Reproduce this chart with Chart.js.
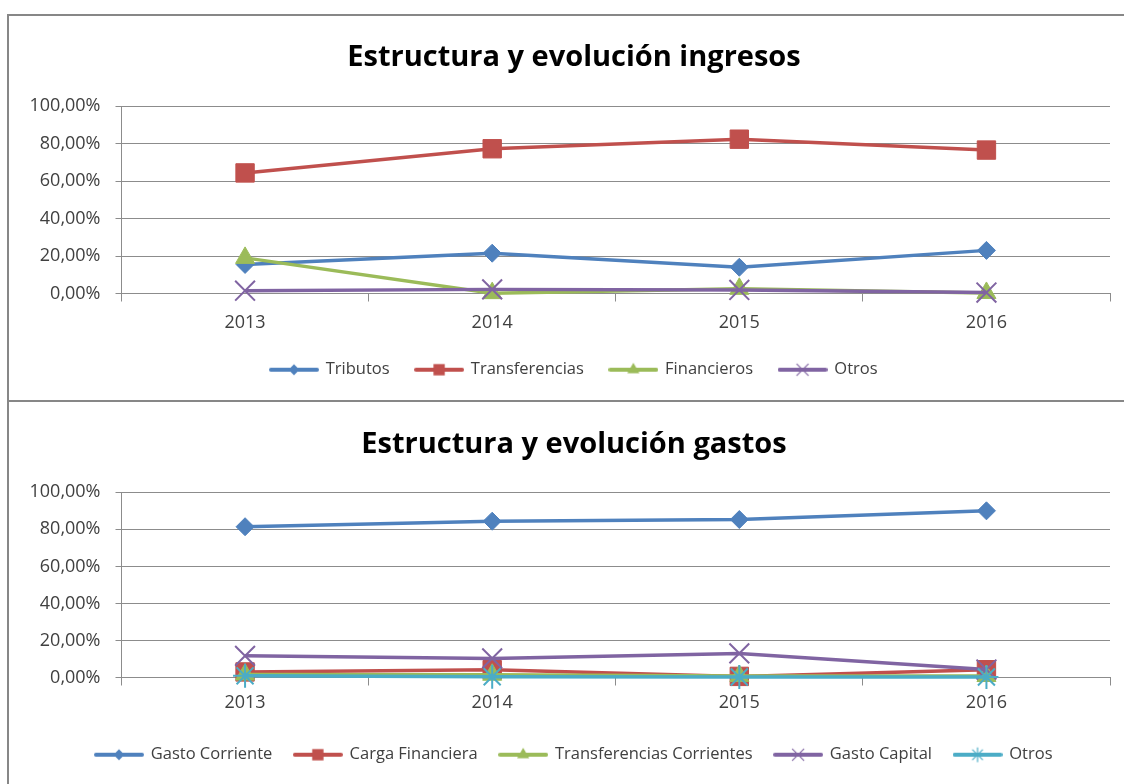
<!DOCTYPE html>
<html lang="es">
<head>
<meta charset="utf-8">
<title>Estructura y evolución ingresos y gastos</title>
<script src="https://cdn.jsdelivr.net/npm/chart.js@4.4.1/dist/chart.umd.min.js"></script>
<style>
  html, body { margin: 0; padding: 0; background: #fff; width: 1124px; height: 784px; overflow: hidden; }
  .frame { position: absolute; left: 7px; top: 14px; width: 1200px; height: 900px; border-top: 2px solid #878787; border-left: 2px solid #878787; }
  .sep { position: absolute; left: 7px; top: 400px; width: 1200px; border-top: 2px solid #878787; }
  .box { position: absolute; left: 8px; width: 1132px; height: 386px; }
</style>
</head>
<body>
<div class="frame"></div>
<div class="sep"></div>
<div class="box" style="top:15px"><canvas id="ingresosChart"></canvas></div>
<div class="box" style="top:401px"><canvas id="gastosChart"></canvas></div>

<script>
const years = ["2013", "2014", "2015", "2016"];
const yTicks = [0, 20, 40, 60, 80, 100];

// Ingresos (% del total)
const tributos = [15.5, 21.5, 14.0, 23.0];
const transferencias = [64.3, 77.2, 82.3, 76.5];
const financieros = [19.0, 0.2, 2.5, 0.3];
const otrosIngresos = [1.5, 2.2, 1.9, 0.5];

// Gastos (% del total)
const gastoCorriente = [81.4, 84.4, 85.3, 90.0];
const cargaFinanciera = [3.0, 4.2, 0.6, 4.2];
const transfCorrientes = [1.6, 1.5, 0.8, 0.8];
const gastoCapital = [11.7, 10.3, 13.0, 4.3];
const otrosGastos = [0.9, 0.4, 0.3, 0.3];

const BLUE = "#4F81BD", RED = "#C0504D", GREEN = "#9BBB59", PURPLE = "#8064A2", CYAN = "#4BACC6";
const GRID = "#8c8c8c";
const TEXT = "#404040";
const FONT = "'Open Sans', 'Noto Sans', sans-serif";

const marks = {
  diamond: { style: "rectRot", radius: 9, bw: 1, legendR: 5.5 },
  square: { style: "rect", radius: 13, bw: 1, legendR: 8 },
  triangle: { style: "triangle", radius: 11, bw: 1, legendR: 7 },
  cross: { style: "crossRot", radius: 14, bw: 2, legendR: 8 },
  star: { style: "star", radius: 12, bw: 2, legendR: 7 },
};

function legendIcon(color, mark) {
  const c = document.createElement("canvas");
  c.width = 50; c.height = 20;
  const ctx = c.getContext("2d");
  ctx.strokeStyle = color;
  ctx.fillStyle = color;
  ctx.lineWidth = 4;
  ctx.lineCap = "round";
  ctx.beginPath();
  ctx.moveTo(2, 10); ctx.lineTo(48, 10);
  ctx.stroke();
  const r = mark.legendR, x = 25, y = 10;
  ctx.lineWidth = 1.2;
  ctx.beginPath();
  if (mark.style === "rectRot") {
    ctx.moveTo(x - r, y); ctx.lineTo(x, y - r); ctx.lineTo(x + r, y); ctx.lineTo(x, y + r); ctx.closePath(); ctx.fill();
  } else if (mark.style === "rect") {
    const s = r * Math.SQRT1_2; ctx.rect(x - s, y - s, 2 * s, 2 * s); ctx.fill();
  } else if (mark.style === "triangle") {
    ctx.moveTo(x, y - r); ctx.lineTo(x + r * 0.866, y + r / 2); ctx.lineTo(x - r * 0.866, y + r / 2); ctx.closePath(); ctx.fill();
  } else {
    const d = r * Math.SQRT1_2;
    ctx.moveTo(x - d, y - d); ctx.lineTo(x + d, y + d);
    ctx.moveTo(x + d, y - d); ctx.lineTo(x - d, y + d);
    if (mark.style === "star") { ctx.moveTo(x, y - r); ctx.lineTo(x, y + r); }
    ctx.stroke();
  }
  return c;
}

function makeDataset(label, data, color, mark, idx, n) {
  return {
    label,
    data,
    borderColor: color,
    backgroundColor: color,
    borderWidth: 3.5,
    pointStyle: mark.style,
    pointRadius: mark.radius,
    pointBackgroundColor: color,
    pointBorderColor: color,
    pointBorderWidth: mark.bw,
    tension: 0,
    clip: false,
    order: n - idx,
    icon: legendIcon(color, mark),
  };
}

function renderChart(canvasId, title, series, lay) {
  const datasets = series.map((s, i) => makeDataset(s[0], s[1], s[2], s[3], i, series.length));
  return new Chart(document.getElementById(canvasId), {
    type: "line",
    data: { labels: years, datasets },
    options: {
      responsive: true,
      maintainAspectRatio: false,
      animation: false,
      events: [],
      layout: { padding: { left: 0, right: 0, top: 0, bottom: lay.bottom } },
      plugins: {
        title: {
          display: true,
          text: title,
          color: "#000",
          font: { family: FONT, size: 29, weight: "bold" },
          padding: { top: lay.titleTop, bottom: lay.titleBottom },
        },
        legend: {
          position: "bottom",
          labels: {
            usePointStyle: true,
            pointStyleWidth: 47,
            padding: lay.legendPad,
            color: TEXT,
            font: { family: FONT, size: 16.5 },
            sort: (a, b) => a.datasetIndex - b.datasetIndex,
            generateLabels(chart) {
              const items = Chart.defaults.plugins.legend.labels.generateLabels(chart);
              items.forEach((it) => { it.pointStyle = chart.data.datasets[it.datasetIndex].icon; });
              return items;
            },
          },
        },
        tooltip: { enabled: false },
      },
      scales: {
        x: {
          offset: true,
          afterFit: (scale) => { scale.height = lay.xHeight; },
          grid: { offset: true, drawOnChartArea: false, drawTicks: true, tickLength: 8, color: GRID },
          border: { color: GRID, width: 1 },
          ticks: { color: TEXT, padding: lay.xPad, font: { family: FONT, size: 18 } },
        },
        y: {
          min: 0,
          max: 100,
          afterFit: (scale) => { scale.width = 113.5; },
          afterBuildTicks: (scale) => { scale.ticks = yTicks.map((v) => ({ value: v })); },
          grid: { color: GRID, lineWidth: 1, tickLength: 6 },
          border: { color: GRID, width: 1 },
          ticks: {
            color: TEXT,
            padding: 15,
            font: { family: FONT, size: 18 },
            callback: (v) => v.toFixed(2).replace(".", ",") + "%",
          },
        },
        // empty right-hand margin so the title and legend stay centred on the frame
        margin: {
          position: "right",
          min: 0,
          max: 100,
          afterFit: (scale) => { scale.width = 30; },
          grid: { display: false },
          border: { display: false },
          ticks: { display: false },
        },
      },
    },
  });
}

renderChart("ingresosChart", "Estructura y evolución ingresos", [
  ["Tributos", tributos, BLUE, marks.diamond],
  ["Transferencias", transferencias, RED, marks.square],
  ["Financieros", financieros, GREEN, marks.triangle],
  ["Otros", otrosIngresos, PURPLE, marks.cross],
], { titleTop: 25, titleBottom: 31.2, xHeight: 42, xPad: 11, legendPad: 26, bottom: 13 });

renderChart("gastosChart", "Estructura y evolución gastos", [
  ["Gasto Corriente", gastoCorriente, BLUE, marks.diamond],
  ["Carga Financiera", cargaFinanciera, RED, marks.square],
  ["Transferencias Corrientes", transfCorrientes, GREEN, marks.triangle],
  ["Gasto Capital", gastoCapital, PURPLE, marks.cross],
  ["Otros", otrosGastos, CYAN, marks.star],
], { titleTop: 26, titleBottom: 30.5, xHeight: 47, xPad: 7, legendPad: 22, bottom: 14 });
</script>
</body>
</html>
